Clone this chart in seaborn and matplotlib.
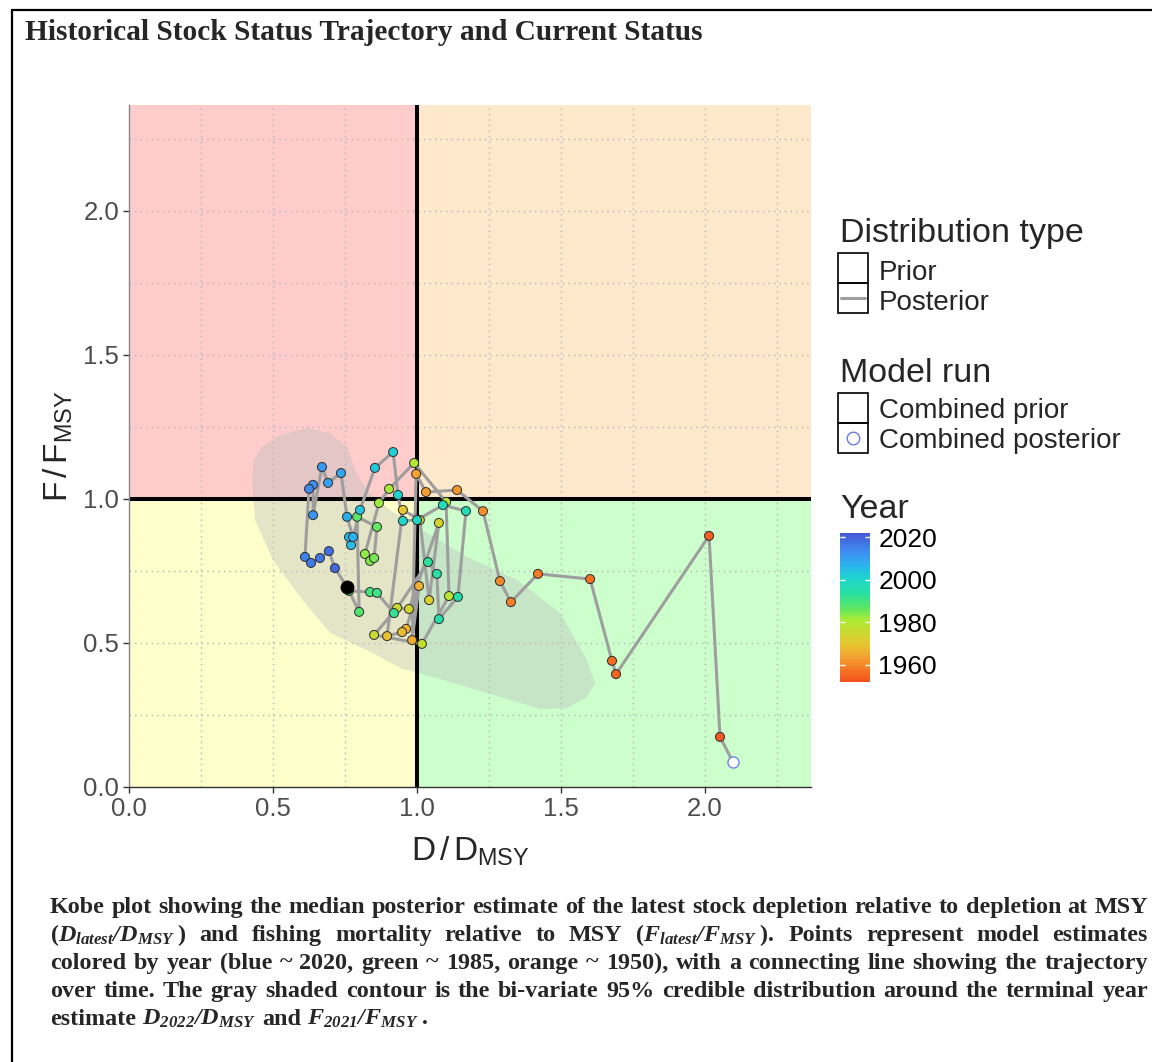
import numpy as np
import pandas as pd
import matplotlib
matplotlib.use("Agg")
import matplotlib.pyplot as plt
import seaborn as sns
from matplotlib.colors import LinearSegmentedColormap, Normalize
from matplotlib.patches import Rectangle
from matplotlib.cm import ScalarMappable
from matplotlib.ticker import MultipleLocator

# ---------------- data ----------------
years = list(range(1952, 2021))
d_ratio = [2.097, 2.052, 2.014, 1.691, 1.677, 1.601, 1.420, 1.326, 1.288, 1.229,
           1.139, 1.031, 0.997, 0.983, 1.007, 0.962, 0.948, 0.896, 0.951, 1.010,
           1.042, 1.076, 0.972, 0.931, 0.851, 1.017, 1.111, 1.101, 0.990, 0.903,
           0.868, 0.819, 0.837, 0.851, 0.861, 0.792, 0.799, 0.764, 0.837, 0.861,
           0.920, 1.038, 1.069, 1.076, 1.142, 1.170, 1.090, 1.000, 0.951, 0.934,
           0.917, 0.854, 0.802, 0.771, 0.764, 0.778, 0.757, 0.736, 0.691, 0.670,
           0.639, 0.639, 0.625, 0.611, 0.632, 0.663, 0.694, 0.715, 0.757]
f_ratio = [0.087, 0.174, 0.872, 0.392, 0.438, 0.722, 0.740, 0.642, 0.715, 0.958,
           1.031, 1.024, 1.087, 0.510, 0.698, 0.549, 0.538, 0.524, 0.962, 0.927,
           0.649, 0.917, 0.618, 0.622, 0.528, 0.497, 0.663, 0.990, 1.125, 1.035,
           0.986, 0.809, 0.785, 0.795, 0.903, 0.938, 0.608, 0.681, 0.677, 0.674,
           0.604, 0.781, 0.740, 0.583, 0.660, 0.958, 0.979, 0.927, 0.924, 1.014,
           1.163, 1.108, 0.962, 0.840, 0.868, 0.868, 0.938, 1.090, 1.056, 1.111,
           0.944, 1.049, 1.035, 0.799, 0.778, 0.795, 0.819, 0.760, 0.694]
terminal_d = [0.757]
terminal_f = [0.694]

contour_d = [0.427, 0.434, 0.462, 0.524, 0.618, 0.698, 0.757, 0.785, 0.830, 0.906,
             1.000, 1.174, 1.347, 1.497, 1.590, 1.618, 1.590, 1.521, 1.427, 1.288,
             1.056, 0.941, 0.847, 0.698, 0.594, 0.500, 0.438]
contour_f = [1.066, 1.135, 1.181, 1.222, 1.247, 1.229, 1.181, 1.101, 1.024, 0.962,
             0.903, 0.799, 0.719, 0.604, 0.441, 0.361, 0.313, 0.274, 0.271, 0.313,
             0.382, 0.413, 0.465, 0.535, 0.660, 0.788, 0.927]

axis_ticks = [0.0, 0.5, 1.0, 1.5, 2.0]
axis_tick_labels = ["0.0", "0.5", "1.0", "1.5", "2.0"]
year_ticks = [1960, 1980, 2000, 2020]
year_limits = (1952, 2022)
axis_max = 2.368

cmap_positions = [0.0, 0.087, 0.16, 0.26, 0.36, 0.42, 0.49, 0.594, 0.696, 0.783, 0.87, 1.0]
cmap_colors = ['#f4511e', '#f57a25', '#f5a030', '#e5c830', '#c0e030', '#a8ec38',
               '#60e860', '#28e0a0', '#1ed6cc', '#2ab4ee', '#3e90f0', '#4458d8']

title = "Historical Stock Status Trajectory and Current Status"
caption_lines = [
    "Kobe plot showing the median posterior estimate of the latest stock depletion relative to depletion at MSY",
    r"($\mathbfit{D_{latest}/D_{MSY}}\;$) and fishing mortality relative to MSY ($\mathbfit{F_{latest}/F_{MSY}}\;$). Points represent model estimates",
    "colored by year (blue ~ 2020, green ~ 1985, orange ~ 1950), with a connecting line showing the trajectory",
    "over time. The gray shaded contour is the bi-variate 95% credible distribution around the terminal year",
    r"estimate $\mathbfit{D_{2022}/D_{MSY}}$ and $\mathbfit{F_{2021}/F_{MSY}}\;$.",
]

# ---------------- style ----------------
sns.set_style("white")
plt.rcParams['font.family'] = ['Liberation Sans', 'DejaVu Sans']
plt.rcParams.update({
    'mathtext.fontset': 'custom',
    'mathtext.rm': 'Liberation Sans',
    'mathtext.sf': 'Liberation Sans',
    'mathtext.it': 'Liberation Serif:italic:bold',
    'mathtext.bf': 'Liberation Serif:bold',
    'mathtext.bfit': 'Liberation Serif:italic:bold',
})

W, H = 1152, 1062
fig = plt.figure(figsize=(W / 100, H / 100), dpi=100)
fig.patch.set_facecolor('white')

# overlay axes in pixel coordinates for frame, legends, title, caption
ov = fig.add_axes([0, 0, 1, 1])
ov.set_xlim(0, W)
ov.set_ylim(H, 0)
ov.axis('off')

# main axes
L, R, T, B = 129, 811, 105, 787
ax = fig.add_axes([L / W, 1 - B / H, (R - L) / W, (B - T) / H])

year_cmap = LinearSegmentedColormap.from_list("yr", list(zip(cmap_positions, cmap_colors)))
norm = Normalize(vmin=year_limits[0], vmax=year_limits[1])

# quadrants
ax.add_patch(Rectangle((0, 1), 1, 10, facecolor='#ffcccc', edgecolor='none', zorder=0.1))
ax.add_patch(Rectangle((1, 1), 10, 10, facecolor='#ffe9cc', edgecolor='none', zorder=0.1))
ax.add_patch(Rectangle((0, 0), 1, 1, facecolor='#ffffcc', edgecolor='none', zorder=0.1))
ax.add_patch(Rectangle((1, 0), 10, 1, facecolor='#ccffcc', edgecolor='none', zorder=0.1))

# contour
ax.fill(contour_d, contour_f, color='#bdbdbd', alpha=0.40, lw=0, zorder=1)

# reference lines
ax.axvline(1.0, color='black', lw=2.9, zorder=1.5)
ax.axhline(1.0, color='black', lw=2.9, zorder=1.5)

# trajectory
sns.lineplot(x=d_ratio, y=f_ratio, sort=False, estimator=None, color='#9e9e9e',
             lw=2.2, ax=ax, zorder=3)
sns.scatterplot(x=d_ratio, y=f_ratio, hue=years, palette=year_cmap, hue_norm=norm,
                s=42, edgecolor='#2b2b2b', linewidth=0.7, legend=False, ax=ax, zorder=4)
ax.scatter(d_ratio[:1], f_ratio[:1], s=64, facecolor='white', edgecolor='#6f86e6',
           linewidth=1.0, zorder=5)
ax.scatter(terminal_d, terminal_f, s=80, facecolor='black', edgecolor='black', zorder=6)

ax.set_xlim(0, axis_max)
ax.set_ylim(0, axis_max)
ax.set_xticks(axis_ticks)
ax.set_xticklabels(axis_tick_labels)
ax.set_yticks(axis_ticks)
ax.set_yticklabels(axis_tick_labels)
ax.xaxis.set_minor_locator(MultipleLocator(0.25))
ax.yaxis.set_minor_locator(MultipleLocator(0.25))
ax.set_axisbelow(True)
ax.grid(which='both', linestyle=(0, (1, 3)), color='#b4b4b4', lw=1.0)
ax.tick_params(which='major', labelsize=18.5, labelcolor='#4d4d4d', color='#333333',
               length=4, width=1, pad=3, left=True, bottom=True)
ax.tick_params(which='minor', length=0)
for s in ['top', 'right']:
    ax.spines[s].set_visible(False)
ax.spines['left'].set_color('#888888')
ax.spines['bottom'].set_color('#333333')
ax.spines['left'].set_linewidth(1.0)
ax.spines['bottom'].set_linewidth(1.0)
ax.set_xlabel(r'$\mathrm{D\,/\,D_{MSY}}$', fontsize=24, labelpad=10)
ax.set_ylabel(r'$\mathrm{F\,/\,F_{MSY}}$', fontsize=24, labelpad=6)

# frame lines
ov.plot([12, 12], [10, H + 5], color='black', lw=1.6)
ov.plot([12, W + 5], [10, 10], color='black', lw=1.6)

renderer = fig.canvas.get_renderer()
serif_b = dict(family='Liberation Serif', weight='bold')


def text_width(s, fs):
    t = ov.text(0, 0, s, fontsize=fs, **serif_b)
    w = t.get_window_extent(renderer).width
    t.remove()
    return w


# title fitted to its width in the reference
tfs = 18.0 * 678 / text_width(title, 18.0)
ov.text(25, 40, title, fontsize=tfs, va='baseline', ha='left', **serif_b)

# caption, justified
x0, x1 = 50, 1148
base_fs = 16.0
sp0 = text_width('a a', base_fs) - text_width('aa', base_fs)
nat = 0
for line in caption_lines[:4]:
    toks = line.split(' ')
    nat = max(nat, sum(text_width(t, base_fs) for t in toks) + sp0 * (len(toks) - 1))
cfs = base_fs * (x1 - x0 - 6) / nat
sp = text_width('a a', cfs) - text_width('aa', cfs)
baselines = [913, 941, 969, 997, 1025]
for i, line in enumerate(caption_lines):
    toks = line.split(' ')
    ws = [text_width(t, cfs) for t in toks]
    if i < 4:
        gap = (x1 - x0 - sum(ws)) / (len(toks) - 1)
    else:
        gap = sp
    x = x0
    for t, w in zip(toks, ws):
        ov.text(x, baselines[i], t, fontsize=cfs, va='baseline', ha='left', **serif_b)
        x += w + gap

# legends
lx = 840
ov.text(lx, 242, "Distribution type", fontsize=24.5, va='baseline', ha='left')
ov.add_patch(Rectangle((838, 253), 30, 30, fill=False, ec='black', lw=1.2))
ov.add_patch(Rectangle((838, 283), 30, 30, fill=False, ec='black', lw=1.2))
ov.plot([841, 865], [298, 298], color='#9e9e9e', lw=2.2)
ov.text(879, 280, "Prior", fontsize=20, va='baseline', ha='left')
ov.text(879, 310, "Posterior", fontsize=20, va='baseline', ha='left')

ov.text(lx, 382, "Model run", fontsize=24.5, va='baseline', ha='left')
ov.add_patch(Rectangle((838, 393), 30, 30, fill=False, ec='black', lw=1.2))
ov.add_patch(Rectangle((838, 423), 30, 30, fill=False, ec='black', lw=1.2))
ov.plot([853], [438], marker='o', ms=9, mfc='white', mec='#6a7de6', mew=1.0)
ov.text(879, 418, "Combined prior", fontsize=20, va='baseline', ha='left')
ov.text(879, 448, "Combined posterior", fontsize=20, va='baseline', ha='left')

ov.text(lx, 518, "Year", fontsize=24.5, va='baseline', ha='left')
cax = fig.add_axes([840 / W, 1 - 682 / H, 30 / W, (682 - 533) / H])
sm = ScalarMappable(norm=norm, cmap=year_cmap)
cb = fig.colorbar(sm, cax=cax)
cb.outline.set_visible(False)
cb.set_ticks(year_ticks)
cax.tick_params(length=0, labelsize=19, pad=6, labelcolor='black')
for t in year_ticks:
    cax.hlines(t, 0, 0.18, color='white', lw=1)
    cax.hlines(t, 0.82, 1, color='white', lw=1)

fig.savefig("out.png", dpi=100, facecolor='white')
